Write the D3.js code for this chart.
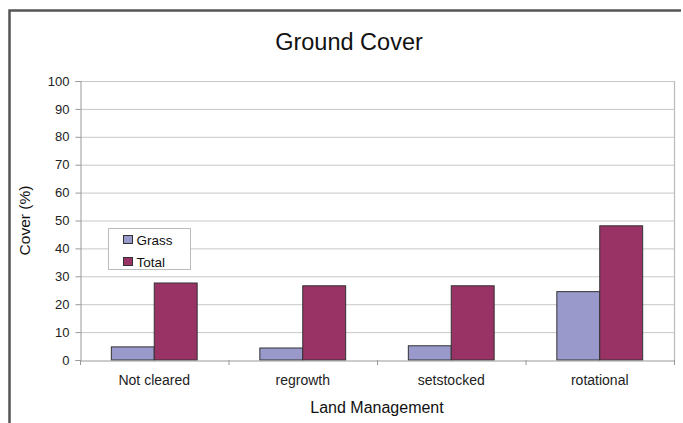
<!DOCTYPE html>
<html>
<head>
<meta charset="utf-8">
<script src="https://cdn.jsdelivr.net/npm/d3@7"></script>
<style>
  html, body { margin: 0; padding: 0; background: #fff; }
  svg { display: block; font-family: "Liberation Sans", Arial, sans-serif; }
</style>
</head>
<body>
<svg id="chart" width="683" height="423"></svg>
<script>
const categories = ["Not cleared", "regrowth", "setstocked", "rotational"];
const seriesNames = ["Grass", "Total"];
const grassValues = [4.7, 4.3, 5.1, 24.5];
const totalValues = [27.6, 26.6, 26.6, 48.1];
const yTicks = [0, 10, 20, 30, 40, 50, 60, 70, 80, 90, 100];
const colors = ["#9999cc", "#993366"];
const titleText = "Ground Cover";
const xTitle = "Land Management";
const yTitle = "Cover (%)";

const svg = d3.select("#chart");
const plot = { left: 80, right: 674, top: 81, bottom: 360 };

// outer frame (left and top visible)
svg.append("path")
  .attr("d", `M9.5,423 L9.5,10.5 L681,10.5`)
  .attr("fill", "none").attr("stroke", "#555").attr("stroke-width", 2.5);

const x = d3.scaleBand().domain(categories).range([plot.left, plot.right]).paddingInner(0).paddingOuter(0);
const xs = d3.scaleBand().domain(seriesNames).range([0, x.bandwidth()]).paddingInner(0).paddingOuter(0.73);
const y = d3.scaleLinear().domain([0, 100]).range([plot.bottom, plot.top]);

// gridlines
svg.append("g").selectAll("line").data(yTicks.filter(d => d > 0)).join("line")
  .attr("x1", plot.left).attr("x2", plot.right)
  .attr("y1", d => y(d) + 0.5).attr("y2", d => y(d) + 0.5)
  .attr("stroke", "#c8c8c8").attr("stroke-width", 1);

// plot right border
svg.append("line").attr("x1", plot.right + 0.5).attr("x2", plot.right + 0.5)
  .attr("y1", plot.top).attr("y2", plot.bottom)
  .attr("stroke", "#bbb").attr("stroke-width", 1.2);

// bars
const rows = categories.map((c, i) => ({ cat: c, vals: [grassValues[i], totalValues[i]] }));
const groups = svg.append("g").selectAll("g").data(rows).join("g")
  .attr("transform", d => `translate(${x(d.cat)},0)`);
groups.selectAll("rect").data(d => d.vals.map((v, j) => ({ v, s: seriesNames[j], j }))).join("rect")
  .attr("x", d => xs(d.s))
  .attr("width", xs.bandwidth())
  .attr("y", d => y(d.v))
  .attr("height", d => y(0) - y(d.v))
  .attr("fill", d => colors[d.j])
  .attr("stroke", "#333").attr("stroke-width", 1);

// y axis
const yAxis = svg.append("g").attr("transform", `translate(${plot.left + 0.5},0)`)
  .call(d3.axisLeft(y).tickValues(yTicks).tickSize(5).tickPadding(6));
yAxis.select(".domain").attr("stroke", "#999");
yAxis.selectAll(".tick line").attr("stroke", "#999");
yAxis.selectAll("text").attr("font-size", 13).attr("fill", "#222")
  .attr("font-family", "Liberation Sans, Arial, sans-serif");

// x axis
const xAxis = svg.append("g").attr("transform", `translate(0,${plot.bottom + 0.5})`)
  .call(d3.axisBottom(x).tickSize(0).tickPadding(15));
xAxis.select(".domain").attr("stroke", "#999");
xAxis.selectAll("text").attr("font-size", 14).attr("fill", "#222")
  .attr("font-family", "Liberation Sans, Arial, sans-serif");
// category boundary ticks
svg.append("g").selectAll("line").data(categories).join("line")
  .attr("x1", d => x(d) + x.bandwidth() + 0.5)
  .attr("x2", d => x(d) + x.bandwidth() + 0.5)
  .attr("y1", plot.bottom).attr("y2", plot.bottom + 5)
  .attr("stroke", "#999");
svg.append("line").attr("x1", plot.left + 0.5).attr("x2", plot.left + 0.5)
  .attr("y1", plot.bottom).attr("y2", plot.bottom + 5).attr("stroke", "#999");

// titles
svg.append("text").attr("x", 349).attr("y", 50).attr("text-anchor", "middle")
  .attr("font-size", 23.5).attr("fill", "#111").text(titleText);
svg.append("text").attr("x", (plot.left + plot.right) / 2).attr("y", 413).attr("text-anchor", "middle")
  .attr("font-size", 16).attr("fill", "#111").text(xTitle);
svg.append("text").attr("transform", `translate(30,${(plot.top + plot.bottom) / 2}) rotate(-90)`)
  .attr("text-anchor", "middle").attr("font-size", 15.5).attr("fill", "#111").text(yTitle);

// legend
const lg = svg.append("g").attr("transform", "translate(108.5,228.5)");
lg.append("rect").attr("width", 82).attr("height", 41).attr("fill", "#fff").attr("stroke", "#bbb");
seriesNames.forEach((s, i) => {
  lg.append("rect").attr("x", 15).attr("y", 7 + i * 22).attr("width", 9).attr("height", 8)
    .attr("fill", colors[i]).attr("stroke", "#333");
  lg.append("text").attr("x", 28).attr("y", 16 + i * 22).attr("font-size", 13.5).attr("fill", "#111").text(s);
});
</script>
</body>
</html>
